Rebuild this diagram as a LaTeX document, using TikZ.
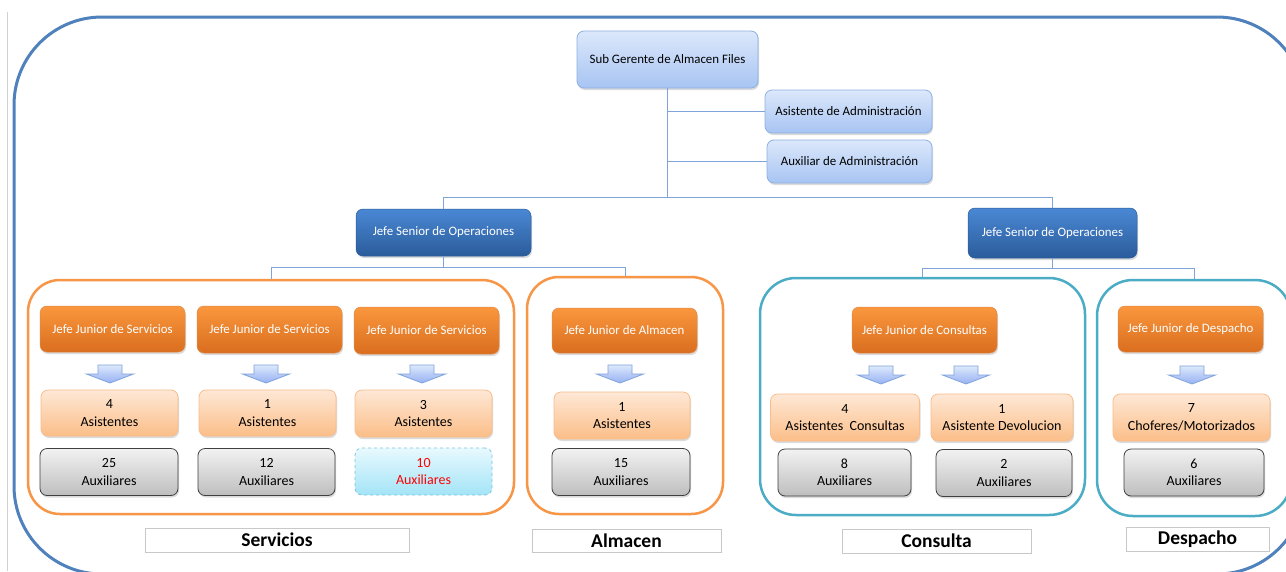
\documentclass[tikz,border=0pt]{standalone}
\usepackage{fontspec}
\setmainfont{Carlito}
\usetikzlibrary{shadows}

\definecolor{lbTop}{HTML}{DCE8FB}
\definecolor{lbBot}{HTML}{A7C4F2}
\definecolor{lbLine}{HTML}{8DB0E3}
\definecolor{dbTop}{HTML}{4A88D4}
\definecolor{dbBot}{HTML}{2B5C9B}
\definecolor{orTop}{HTML}{FA973D}
\definecolor{orBot}{HTML}{D96E1F}
\definecolor{peTop}{HTML}{FEE8D6}
\definecolor{peBot}{HTML}{FBBE88}
\definecolor{peLine}{HTML}{F9BD8C}
\definecolor{grTop}{HTML}{F2F2F2}
\definecolor{grBot}{HTML}{BEBEBE}
\definecolor{grLine}{HTML}{404040}
\definecolor{cyTop}{HTML}{E8F9FE}
\definecolor{cyBot}{HTML}{A3E4F7}
\definecolor{cyLine}{HTML}{7CC6DE}
\definecolor{connCol}{HTML}{7FA4D9}
\definecolor{outerCol}{HTML}{4F81BD}
\definecolor{orFrame}{HTML}{F79646}
\definecolor{tlFrame}{HTML}{4BACC6}
\definecolor{labLine}{HTML}{C8C8C8}

\newcommand\boxfont{\fontsize{12.9}{17}\selectfont}
\newcommand\countfont{\fontsize{14}{17.5}\selectfont}
\newcommand\labfont{\fontsize{19.5}{22}\selectfont\bfseries}

\begin{document}
\begin{tikzpicture}[x=1pt,y=-1pt,
  softshadow/.style={drop shadow={opacity=0.28,shadow xshift=1pt,shadow yshift=-2pt}},
  basebox/.style={rounded corners=7pt,inner sep=0pt,align=center,font=\boxfont},
  lightbox/.style={basebox,top color=lbTop,bottom color=lbBot,draw=lbLine,line width=0.8pt,softshadow},
  seniorbox/.style={basebox,top color=dbTop,bottom color=dbBot,draw=dbBot,line width=0.5pt,text=white,softshadow},
  juniorbox/.style={basebox,top color=orTop,bottom color=orBot,draw=orBot!80,line width=0.5pt,text=white,softshadow},
  assistbox/.style={basebox,font=\countfont,top color=peTop,bottom color=peBot,draw=peLine,line width=0.8pt,softshadow},
  auxbox/.style={basebox,font=\countfont,top color=grTop,bottom color=grBot,draw=grLine,line width=0.8pt,softshadow},
  newauxbox/.style={basebox,font=\countfont,top color=cyTop,bottom color=cyBot,draw=cyLine,dashed,line width=0.8pt,text=red},
  orangegroup/.style={draw=orFrame,line width=2.5pt,rounded corners=32pt,inner sep=0pt},
  tealgroup/.style={draw=tlFrame,line width=2.5pt,rounded corners=36pt,inner sep=0pt},
  labelbox/.style={draw=labLine,fill=white,line width=0.8pt,inner sep=0pt,font=\labfont},
  conn/.style={draw=connCol,line width=1pt},
  arrowbody/.style={top color=lbTop,bottom color=lbBot!90!blue,draw=connCol,line width=0.8pt},
  downarr/.pic={\path[arrowbody] (-12,0) -- (12,0) -- (12,9) -- (23.5,9) -- (0,18) -- (-23.5,9) -- (-12,9) -- cycle;}
]
\fill[white] (0,0) rectangle (1286,571);
\useasboundingbox (0,0) rectangle (1286,571);

% page edge line on the left
\draw[black!18,line width=0.8pt] (7,12) -- (7,571);

\begin{scope}
  \clip (0,0) rectangle (1286,571);
  % outer frame of the whole organisation
  \draw[outerCol,line width=3pt,rounded corners=88pt] (14,17) rectangle (1305,574);
  % area frames
  \node[orangegroup,minimum width=486pt,minimum height=234pt] (gS) at (271,397) {};
  \node[orangegroup,minimum width=196pt,minimum height=237pt] (gA) at (625,395.5) {};
  \node[tealgroup,minimum width=325pt,minimum height=237pt] (gC) at (922.5,396.5) {};
  \node[tealgroup,minimum width=194pt,minimum height=236pt] (gD) at (1194,398) {};
\end{scope}

% management
\node[lightbox,minimum width=181pt,minimum height=57pt] (sg) at (667.5,59.5) {Sub Gerente de Almacen Files};
\node[lightbox,minimum width=167pt,minimum height=43pt] (asis) at (848.5,111.5) {Asistente de Administración};
\node[lightbox,minimum width=165pt,minimum height=43pt] (auxa) at (849.5,161.5) {Auxiliar de Administración};
\node[seniorbox,minimum width=175pt,minimum height=47pt] (jsoL) at (443.5,232.5) {Jefe Senior de Operaciones};
\node[seniorbox,minimum width=169pt,minimum height=50pt] (jsoR) at (1052.5,233) {Jefe Senior de Operaciones};

% connectors
\draw[conn] (sg.south) -- ++(0,109.5) coordinate (hub);
\draw[conn] (sg.south |- asis.west) -- (asis.west);
\draw[conn] (sg.south |- auxa.west) -- (auxa.west);
\draw[conn] (jsoL.north) |- (hub) -| (jsoR.north);
\draw[conn] (jsoL.south) -- ++(0,11.5) coordinate (hubL);
\draw[conn] (gS.north) |- (hubL) -| (gA.north);
\draw[conn] (jsoR.south) -- ++(0,10) coordinate (hubR);
\draw[conn] (gC.north) |- (hubR) -| (gD.north);

% junior heads
\node[juniorbox,minimum width=145pt,minimum height=46pt] (jj1) at (112.5,329) {Jefe Junior de Servicios};
\node[juniorbox,minimum width=145pt,minimum height=47pt] (jj2) at (269.5,329.5) {Jefe Junior de Servicios};
\node[juniorbox,minimum width=145pt,minimum height=47pt] (jj3) at (426.5,330.5) {Jefe Junior de Servicios};
\node[juniorbox,minimum width=145pt,minimum height=45pt] (jjA) at (624.5,330.5) {Jefe Junior de Almacen};
\node[juniorbox,minimum width=145pt,minimum height=46pt] (jjC) at (924.5,330) {Jefe Junior de Consultas};
\node[juniorbox,minimum width=145pt,minimum height=46pt] (jjD) at (1190.5,329) {Jefe Junior de Despacho};

% block arrows
\pic at (110,365) {downarr};
\pic at (266,365) {downarr};
\pic at (422,365) {downarr};
\pic at (620,365) {downarr};
\pic at (881,366) {downarr};
\pic at (966,366) {downarr};
\pic at (1192,366) {downarr};

% assistants
\node[assistbox,minimum width=137pt,minimum height=46pt] (as1) at (109.5,413) {4\\Asistentes};
\node[assistbox,minimum width=137pt,minimum height=46pt] (as2) at (267.5,413) {1\\Asistentes};
\node[assistbox,minimum width=137pt,minimum height=47pt] (as3) at (423.5,413.5) {3\\Asistentes};
\node[assistbox,minimum width=136pt,minimum height=47pt] (asA) at (622,415.5) {1\\Asistentes};
\node[assistbox,minimum width=149pt,minimum height=47pt] (asC1) at (845,417.5) {4\\Asistentes\ \ Consultas};
\node[assistbox,minimum width=142pt,minimum height=47pt] (asC2) at (1002,417.5) {1\\Asistente Devolucion};
\node[assistbox,minimum width=157pt,minimum height=47pt] (asD) at (1191.5,417.5) {7\\Choferes/Motorizados};

% auxiliaries
\node[auxbox,minimum width=138pt,minimum height=47pt] (ax1) at (109,472) {25\\Auxiliares};
\node[auxbox,minimum width=137pt,minimum height=47pt] (ax2) at (266.5,472) {12\\Auxiliares};
\node[newauxbox,minimum width=137pt,minimum height=47pt] (ax3) at (423.5,471.5) {10\\Auxiliares};
\node[auxbox,minimum width=138pt,minimum height=47pt] (axA) at (621,472) {15\\Auxiliares};
\node[auxbox,minimum width=133pt,minimum height=47pt] (axC1) at (844.5,472.5) {8\\Auxiliares};
\node[auxbox,minimum width=136pt,minimum height=47pt] (axC2) at (1004,473) {2\\Auxiliares};
\node[auxbox,minimum width=140pt,minimum height=47pt] (axD) at (1194,472.5) {6\\Auxiliares};

% area captions
\node[labelbox,minimum width=264pt,minimum height=24pt] (lS) at (277,540) {Servicios};
\node[labelbox,minimum width=189pt,minimum height=23pt] (lA) at (626.5,540.5) {Almacen};
\node[labelbox,minimum width=189pt,minimum height=24pt] (lC) at (936.5,541) {Consulta};
\node[labelbox,minimum width=143pt,minimum height=24pt] (lD) at (1197.5,539) {Despacho};
\end{tikzpicture}
\end{document}
